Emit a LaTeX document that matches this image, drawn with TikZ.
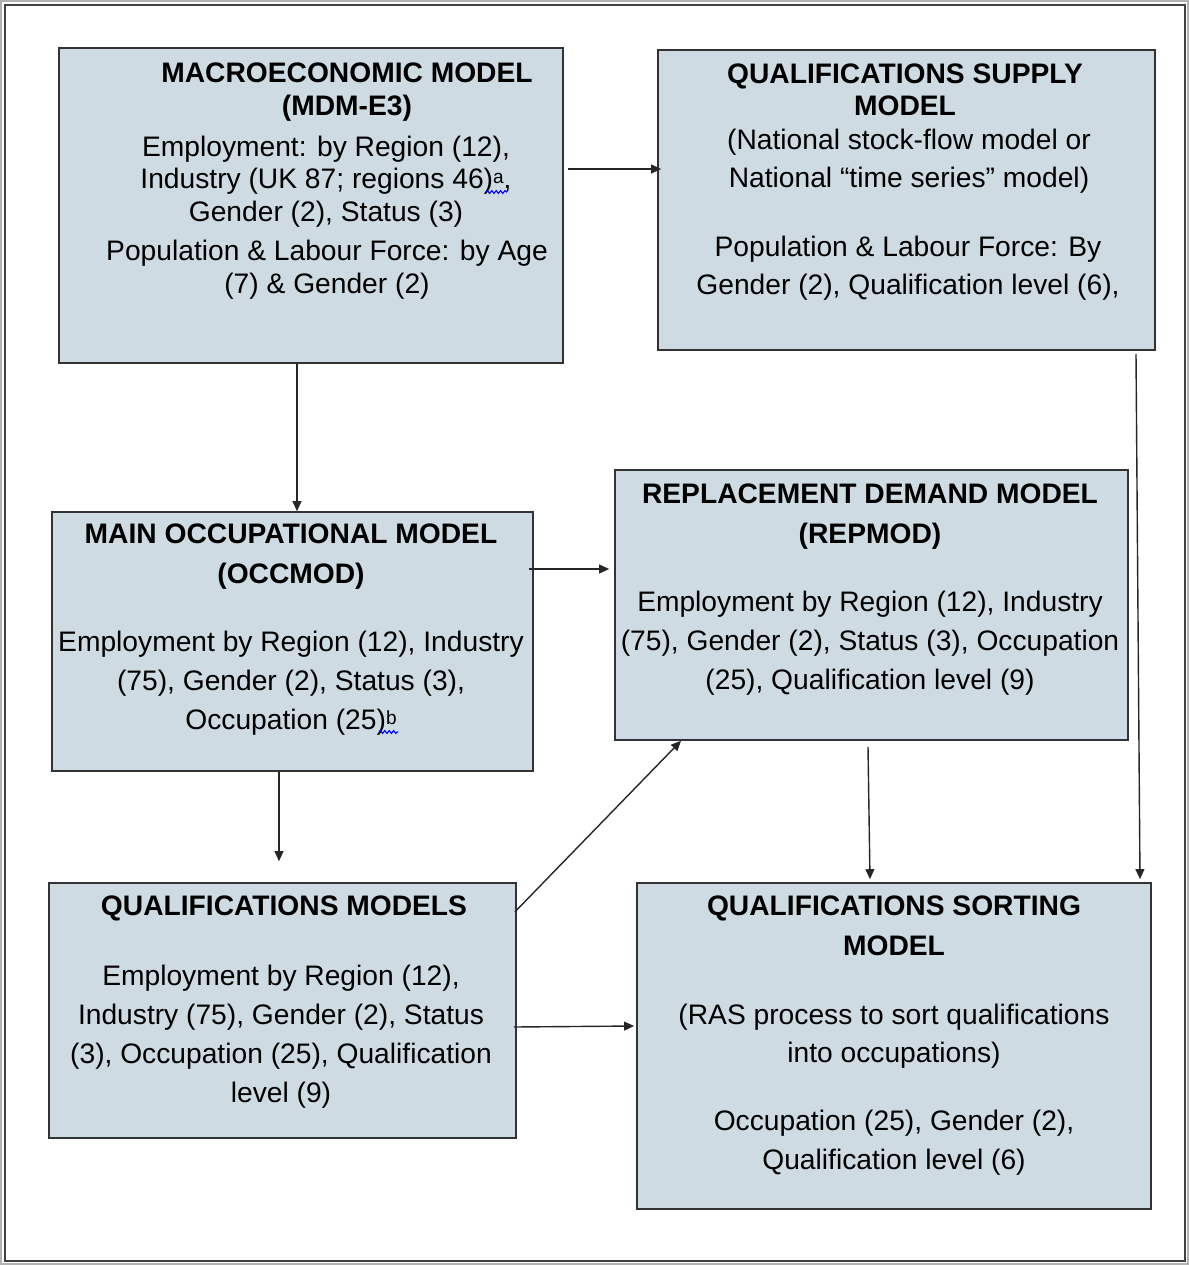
\documentclass[tikz,border=0pt]{standalone}
\usepackage{fontspec}
\setmainfont{Liberation Sans}
\usetikzlibrary{arrows.meta,fit,decorations.pathmorphing}
\definecolor{boxfill}{RGB}{207,219,227}
\newcommand{\supmark}[1]{\raisebox{2.5pt}{\fontsize{9.5}{9.5}\selectfont #1}}

\begin{document}
\begin{tikzpicture}[
    x=0.5pt, y=-0.5pt,
    box/.style={draw=black!80, line width=0.8pt, fill=boxfill, inner sep=0pt},
    boxtitle/.style={anchor=north, align=center, inner sep=0pt, font=\fontsize{14.1}{20}\selectfont\bfseries},
    boxtext/.style={anchor=north, align=center, inner sep=0pt, font=\fontsize{14.1}{19.5}\selectfont},
    arr/.style={-{Triangle[length=5pt,width=4.4pt]}, line width=0.7pt, black!85},
    squig/.style={blue, line width=0.55pt, decorate, decoration={snake, amplitude=0.7pt, segment length=2.2pt}}
]
    \useasboundingbox (0,0) rectangle (1189,1265);
    % page frame
    \draw[gray!60, line width=1pt] (1,1) rectangle (1188,1264);
    \draw[black!75, line width=1pt] (5,5) rectangle (1185,1261);

    % boxes
    \node[box, fit={(59,48) (563,363)}] (macro) {};
    \node[box, fit={(658,50) (1155,350)}] (qsupply) {};
    \node[box, fit={(52,512) (533,771)}] (occmod) {};
    \node[box, fit={(615,470) (1128,740)}] (repmod) {};
    \node[box, fit={(49,883) (516,1138)}] (qmodels) {};
    \node[box, fit={(637,883) (1151,1209)}] (qsorting) {};

    % texts
    \node[boxtitle, font=\fontsize{14.1}{16.5}\selectfont\bfseries] (macrott) at (347,62.5) {MACROECONOMIC MODEL\\(MDM-E3)};
    \node[boxtext, font=\fontsize{14.1}{16.2}\selectfont] (macrotx1) at (326,135.5) {Employment: by Region (12),\\Industry (UK 87; regions 46)\supmark{a},\\Gender (2), Status (3)};
    \node[boxtext, font=\fontsize{14.1}{16.5}\selectfont] (macrotx2) at (327,239.5) {Population \& Labour Force: by Age\\(7) \& Gender (2)};

    \node[boxtitle, font=\fontsize{14.1}{16}\selectfont\bfseries] (qsupplytt) at (905,63.5) {QUALIFICATIONS SUPPLY\\MODEL};
    \node[boxtext, font=\fontsize{14.1}{19}\selectfont] (qsupplytx1) at (909,128.5) {(National stock-flow model or\\National “time series” model)};
    \node[boxtext, font=\fontsize{14.1}{19}\selectfont] (qsupplytx2) at (908,235.5) {Population \& Labour Force: By\\Gender (2), Qualification level (6),};

    \node[boxtitle] (occmodtt) at (291,523.5) {MAIN OCCUPATIONAL MODEL\\(OCCMOD)};
    \node[boxtext] (occmodtx) at (291,630.5) {Employment by Region (12), Industry\\(75), Gender (2), Status (3),\\Occupation (25)\supmark{b}};

    \node[boxtitle] (repmodtt) at (870,483.5) {REPLACEMENT DEMAND MODEL\\(REPMOD)};
    \node[boxtext] (repmodtx) at (870,590.5) {Employment by Region (12), Industry\\(75), Gender (2), Status (3), Occupation\\(25), Qualification level (9)};

    \node[boxtitle] (qmodelstt) at (284,895.5) {QUALIFICATIONS MODELS};
    \node[boxtext] (qmodelstx) at (281,964.5) {Employment by Region (12),\\Industry (75), Gender (2), Status\\(3), Occupation (25), Qualification\\level (9)};

    \node[boxtitle] (qsortingtt) at (894,895.5) {QUALIFICATIONS SORTING\\MODEL};
    \node[boxtext, font=\fontsize{14.1}{19.25}\selectfont] (qsortingtx1) at (894,1003.5) {(RAS process to sort qualifications\\into occupations)};
    \node[boxtext, font=\fontsize{14.1}{19.5}\selectfont] (qsortingtx2) at (894,1109.5) {Occupation (25), Gender (2),\\Qualification level (6)};

    % spell-check marks
    \draw[squig] (486,192) -- (507,192);
    \draw[squig] (379,732) -- (398,732);

    % links
    \draw[arr] ([shift={(4,-36.5)}]macro.east) -- ([shift={(4,-36.5)}]macro.east -| qsupply.west);
    \draw[arr] ([shift={(-14,0)}]macro.south) -- ([shift={(-14,0)}]macro.south |- occmod.north);
    \draw[arr] ([shift={(229.5,3)}]qsupply.south) -- ([shift={(246,-3)}]qsorting.north);
    \draw[arr] ([shift={(-5,-72.5)}]occmod.east) -- ([shift={(-5,-72.5)}]occmod.east -| repmod.west);
    \draw[arr] ([shift={(-13.5,0)}]occmod.south) -- ([shift={(-3.5,-21)}]qmodels.north);
    \draw[arr] ([shift={(-2,-98.5)}]qmodels.east) -- ([shift={(-190.5,0)}]repmod.south);
    \draw[arr] ([shift={(-3.5,6)}]repmod.south) -- ([shift={(-24,-3)}]qsorting.north);
    \draw[arr] ([shift={(-3,16.5)}]qmodels.east) -- ([shift={(-2,-20)}]qsorting.west);
\end{tikzpicture}
\end{document}
